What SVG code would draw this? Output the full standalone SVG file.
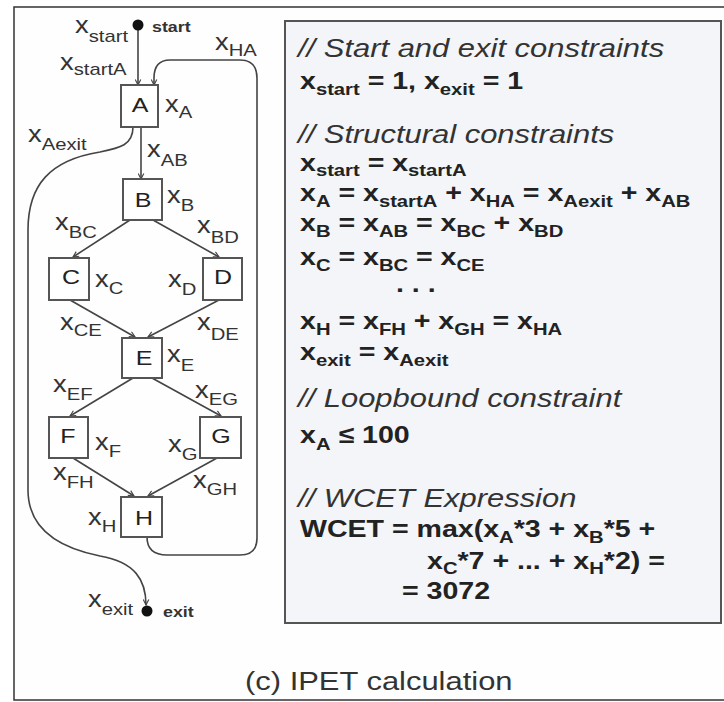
<svg xmlns="http://www.w3.org/2000/svg" width="724" height="702" viewBox="0 0 724 702">
<defs>
<style>
.lbl{font-family:"Liberation Sans",Arial,sans-serif;font-size:23px;fill:#333}
.lbl tspan{font-size:17px}
.nl{font-family:"Liberation Sans",Arial,sans-serif;font-size:21px;fill:#222;text-anchor:middle}
.node rect{fill:#fff;stroke:#555;stroke-width:2}
.edge{fill:none;stroke:#444;stroke-width:1.6;marker-end:url(#ah)}
.cm{font-family:"Liberation Sans",Arial,sans-serif;font-size:26px;font-style:italic;fill:#333}
.eq{font-family:"Liberation Sans",Arial,sans-serif;font-size:24px;font-weight:bold;fill:#222}
.eq tspan.s{font-size:17px}
.sm{font-family:"Liberation Sans",Arial,sans-serif;font-size:15px;font-weight:bold;fill:#333}
.cap{font-family:"Liberation Sans",Arial,sans-serif;font-size:26px;fill:#333}
</style>
<marker id="ah" viewBox="0 0 10 10" refX="9" refY="5" markerWidth="7" markerHeight="7" orient="auto" markerUnits="userSpaceOnUse">
<path d="M1,1 L9,5 L1,9" fill="none" stroke="#444" stroke-width="1.6"/>
</marker>
</defs>
<rect x="0" y="0" width="724" height="702" fill="#fff"/>
<rect x="14" y="7" width="720" height="693" fill="#fefefe" stroke="#333" stroke-width="1.5"/>
<rect x="285" y="21" width="436" height="602" fill="#f3f5f8" stroke="#555" stroke-width="2"/>

<g id="connectors">
<path class="edge" d="M138,30 L138,85"/>
<path class="edge" d="M141,127 L141,179"/>
<path class="edge" d="M147,537 Q147,555 167,555 L240,555 Q257,555 257,538 L257,78 Q257,60 240,60 L170,60 Q154,60 154,78 L154,85"/>
<path class="edge" d="M133,127 C133,145 120,148 100,152 C50,160 28,185 28,230 L28,490 C28,530 60,548 100,556 C135,562 146,580 146,605"/>
<path class="edge" d="M130,220 L73,257"/>
<path class="edge" d="M153,220 L219,257"/>
<path class="edge" d="M70,300 L135,337"/>
<path class="edge" d="M219,300 L148,337"/>
<path class="edge" d="M133,378 L70,416"/>
<path class="edge" d="M152,378 L221,416"/>
<path class="edge" d="M73,458 L134,496"/>
<path class="edge" d="M217,458 L148,496"/>
</g>

<g id="start">
<circle cx="138" cy="25" r="5.5" fill="#111"/>
<text class="sm" transform="translate(152,32) scale(1.19,1)">start</text>
</g>
<g id="exit">
<circle cx="147" cy="611" r="5.5" fill="#111"/>
<text class="sm" transform="translate(163,617) scale(1.19,1)">exit</text>
</g>

<g id="nodeA" class="node"><rect x="121" y="85" width="37" height="42"/><text class="nl" transform="translate(140,112) scale(1.19,1)">A</text></g>
<g id="nodeB" class="node"><rect x="123" y="179" width="39" height="41"/><text class="nl" transform="translate(143,207) scale(1.19,1)">B</text></g>
<g id="nodeC" class="node"><rect x="49" y="258" width="40" height="42"/><text class="nl" transform="translate(71,284) scale(1.19,1)">C</text></g>
<g id="nodeD" class="node"><rect x="203" y="258" width="39" height="42"/><text class="nl" transform="translate(223,284) scale(1.19,1)">D</text></g>
<g id="nodeE" class="node"><rect x="122" y="338" width="40" height="40"/><text class="nl" transform="translate(144,365) scale(1.19,1)">E</text></g>
<g id="nodeF" class="node"><rect x="49" y="417" width="39" height="41"/><text class="nl" transform="translate(68,443) scale(1.19,1)">F</text></g>
<g id="nodeG" class="node"><rect x="200" y="417" width="41" height="41"/><text class="nl" transform="translate(221,443) scale(1.19,1)">G</text></g>
<g id="nodeH" class="node"><rect x="121" y="497" width="41" height="40"/><text class="nl" transform="translate(144,525) scale(1.19,1)">H</text></g>

<g id="edge-labels">
<text class="lbl" transform="translate(75,33) scale(1.19,1)">x<tspan dy="9">start</tspan></text>
<text class="lbl" transform="translate(60,70) scale(1.19,1)">x<tspan dy="5">startA</tspan></text>
<text class="lbl" transform="translate(215,50) scale(1.19,1)">x<tspan dy="6">HA</tspan></text>
<text class="lbl" transform="translate(165,112) scale(1.19,1)">x<tspan dy="6">A</tspan></text>
<text class="lbl" transform="translate(28,142) scale(1.19,1)">x<tspan dy="8">Aexit</tspan></text>
<text class="lbl" transform="translate(147,157) scale(1.19,1)">x<tspan dy="9">AB</tspan></text>
<text class="lbl" transform="translate(167,203) scale(1.19,1)">x<tspan dy="8">B</tspan></text>
<text class="lbl" transform="translate(55,230) scale(1.19,1)">x<tspan dy="8">BC</tspan></text>
<text class="lbl" transform="translate(197,233) scale(1.19,1)">x<tspan dy="10">BD</tspan></text>
<text class="lbl" transform="translate(95,287) scale(1.19,1)">x<tspan dy="7">C</tspan></text>
<text class="lbl" transform="translate(168,287) scale(1.19,1)">x<tspan dy="8">D</tspan></text>
<text class="lbl" transform="translate(60,330) scale(1.19,1)">x<tspan dy="6">CE</tspan></text>
<text class="lbl" transform="translate(197,330) scale(1.19,1)">x<tspan dy="10">DE</tspan></text>
<text class="lbl" transform="translate(167,362) scale(1.19,1)">x<tspan dy="9">E</tspan></text>
<text class="lbl" transform="translate(53,392) scale(1.19,1)">x<tspan dy="8">EF</tspan></text>
<text class="lbl" transform="translate(195,398) scale(1.19,1)">x<tspan dy="7">EG</tspan></text>
<text class="lbl" transform="translate(95,450) scale(1.19,1)">x<tspan dy="7">F</tspan></text>
<text class="lbl" transform="translate(168,452) scale(1.19,1)">x<tspan dy="8">G</tspan></text>
<text class="lbl" transform="translate(53,480) scale(1.19,1)">x<tspan dy="8">FH</tspan></text>
<text class="lbl" transform="translate(193,488) scale(1.19,1)">x<tspan dy="7">GH</tspan></text>
<text class="lbl" transform="translate(88,525) scale(1.19,1)">x<tspan dy="7">H</tspan></text>
<text class="lbl" transform="translate(88,607) scale(1.19,1)">x<tspan dy="8">exit</tspan></text>
</g>

<g id="constraints">
<text class="cm" transform="translate(298,57) scale(1.19,1)">// Start and exit constraints</text>
<text class="eq" transform="translate(300,89) scale(1.19,1)">x<tspan class="s" dy="6">start</tspan><tspan dy="-6"> = 1, x</tspan><tspan class="s" dy="6">exit</tspan><tspan dy="-6"> = 1</tspan></text>
<text class="cm" transform="translate(298,143) scale(1.19,1)">// Structural constraints</text>
<text class="eq" transform="translate(300,171) scale(1.19,1)">x<tspan class="s" dy="5">start</tspan><tspan dy="-5"> = x</tspan><tspan class="s" dy="5">startA</tspan></text>
<text class="eq" transform="translate(300,201) scale(1.19,1)">x<tspan class="s" dy="6">A</tspan><tspan dy="-6"> = x</tspan><tspan class="s" dy="6">startA</tspan><tspan dy="-6"> + x</tspan><tspan class="s" dy="6">HA</tspan><tspan dy="-6"> = x</tspan><tspan class="s" dy="6">Aexit</tspan><tspan dy="-6"> + x</tspan><tspan class="s" dy="6">AB</tspan></text>
<text class="eq" transform="translate(300,231) scale(1.19,1)">x<tspan class="s" dy="6">B</tspan><tspan dy="-6"> = x</tspan><tspan class="s" dy="6">AB</tspan><tspan dy="-6"> = x</tspan><tspan class="s" dy="6">BC</tspan><tspan dy="-6"> + x</tspan><tspan class="s" dy="6">BD</tspan></text>
<text class="eq" transform="translate(300,265) scale(1.19,1)">x<tspan class="s" dy="6">C</tspan><tspan dy="-6"> = x</tspan><tspan class="s" dy="6">BC</tspan><tspan dy="-6"> = x</tspan><tspan class="s" dy="6">CE</tspan></text>
<text class="eq" transform="translate(396,292) scale(1.19,1)">. . .</text>
<text class="eq" transform="translate(300,329) scale(1.19,1)">x<tspan class="s" dy="6">H</tspan><tspan dy="-6"> = x</tspan><tspan class="s" dy="6">FH</tspan><tspan dy="-6"> + x</tspan><tspan class="s" dy="6">GH</tspan><tspan dy="-6"> = x</tspan><tspan class="s" dy="6">HA</tspan></text>
<text class="eq" transform="translate(300,360) scale(1.19,1)">x<tspan class="s" dy="6">exit</tspan><tspan dy="-6"> = x</tspan><tspan class="s" dy="6">Aexit</tspan></text>
<text class="cm" transform="translate(298,407) scale(1.19,1)">// Loopbound constraint</text>
<text class="eq" transform="translate(300,443) scale(1.19,1)">x<tspan class="s" dy="7">A</tspan><tspan dy="-7"> ≤ 100</tspan></text>
<text class="cm" transform="translate(298,507) scale(1.19,1)">// WCET Expression</text>
<text class="eq" transform="translate(300,537) scale(1.19,1)">WCET = max(x<tspan class="s" dy="6">A</tspan><tspan dy="-6">*3 + x</tspan><tspan class="s" dy="6">B</tspan><tspan dy="-6">*5 +</tspan></text>
<text class="eq" transform="translate(427,569) scale(1.19,1)">x<tspan class="s" dy="5">C</tspan><tspan dy="-5">*7 + ... + x</tspan><tspan class="s" dy="5">H</tspan><tspan dy="-5">*2) =</tspan></text>
<text class="eq" transform="translate(402,599) scale(1.19,1)">= 3072</text>
</g>

<text class="cap" transform="translate(245,690) scale(1.19,1)">(c) IPET calculation</text>
</svg>
